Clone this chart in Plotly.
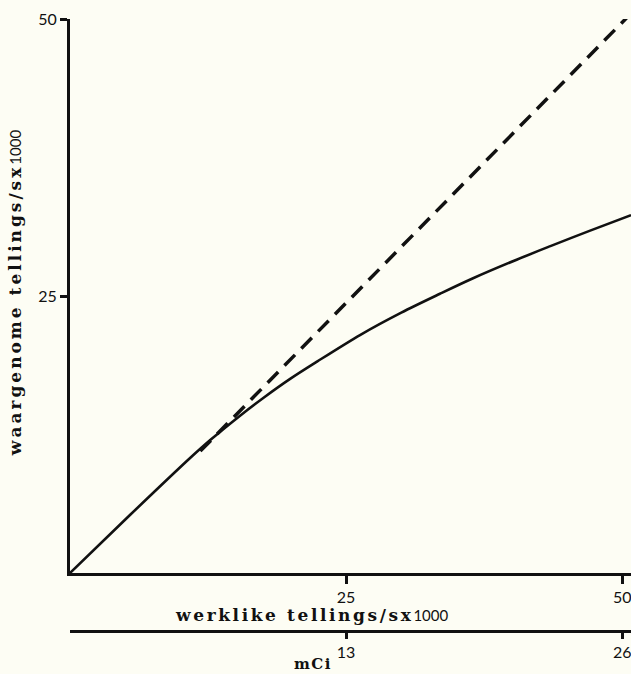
import plotly.graph_objects as go

# Data
true_counts = [0, 5.5, 10.9, 12.7, 15.4, 17.5, 19.9, 22.4, 26.3, 30.0, 33.5, 36.5, 40.5, 43.5, 47.1, 50.8]
observed_counts = [0, 5.3, 10.4, 12.0, 14.2, 15.8, 17.5, 19.1, 21.5, 23.5, 25.2, 26.6, 28.3, 29.5, 30.9, 32.3]
ideal_x = [11.8, 50.5]
ideal_y = [11.0, 50.2]

count_ticks = [25, 50]
mci_ticks = [13, 26]

x_max = 50.8
mci_per_count = mci_ticks[-1] / count_ticks[-1]

bg = "#fdfdf4"
ink = "#111111"
serif = "DejaVu Serif"
sans = "Lato"

fig = go.Figure()
fig.add_trace(go.Scatter(
    x=true_counts, y=observed_counts, mode="lines",
    line=dict(color=ink, width=2.6, shape="spline", smoothing=0.9),
    showlegend=False, hoverinfo="skip"))
fig.add_trace(go.Scatter(
    x=ideal_x, y=ideal_y, mode="lines",
    line=dict(color=ink, width=3.5, dash="15px,9px"),
    showlegend=False, hoverinfo="skip"))
# invisible trace to activate the mCi axis
fig.add_trace(go.Scatter(x=[None], y=[None], xaxis="x2", yaxis="y",
                         showlegend=False, hoverinfo="skip"))

fig.update_layout(
    width=631, height=674,
    margin=dict(l=70, r=0, t=19, b=43),
    paper_bgcolor=bg, plot_bgcolor=bg,
    xaxis=dict(range=[0, x_max], showgrid=False, zeroline=False,
               showline=True, linecolor=ink, linewidth=3,
               ticks="outside", tickvals=count_ticks, ticklen=8, tickwidth=2.5, tickcolor=ink,
               ticklabeloverflow="allow",
               tickfont=dict(family=sans, size=16, color=ink)),
    yaxis=dict(range=[0, 50], domain=[58 / 612, 1], showgrid=False, zeroline=False,
               showline=True, linecolor=ink, linewidth=3,
               ticks="outside", tickvals=count_ticks, ticklen=7, tickwidth=2.5, tickcolor=ink,
               ticklabeloverflow="allow",
               tickfont=dict(family=sans, size=16, color=ink)),
    xaxis2=dict(range=[0, x_max * mci_per_count], overlaying="x", anchor="free", position=0,
                side="bottom", showgrid=False, zeroline=False,
                showline=True, linecolor=ink, linewidth=3,
                ticks="outside", tickvals=mci_ticks, ticklen=6, tickwidth=2.5, tickcolor=ink,
                ticklabeloverflow="allow",
                tickfont=dict(family=sans, size=16, color=ink)),
)

fig.add_annotation(
    text="<span style='letter-spacing:2.6px'><b>werklike tellings/sx</b></span>"
         "<span style='font-family:Lato;font-size:15px'>1000</span>",
    xref="paper", yref="paper", x=0.43, y=0.026, showarrow=False,
    font=dict(family=serif, size=17, color=ink), xanchor="center", yanchor="middle")
fig.add_annotation(
    text="<span style='letter-spacing:1.5px'><b>mCi</b></span>",
    xref="paper", yref="paper", x=0.433, y=-0.054, showarrow=False,
    font=dict(family=serif, size=15, color=ink), xanchor="center", yanchor="middle")
fig.add_annotation(
    text="<span style='letter-spacing:3px'><b>waargenome tellings/sx</b></span>"
         "<span style='font-family:Lato;font-size:15px'>1000</span>",
    xref="paper", yref="paper", x=-0.098, y=0.552, showarrow=False, textangle=-90,
    font=dict(family=serif, size=17, color=ink), xanchor="center", yanchor="middle")

fig.write_html(
    "out.html",
    config={"displayModeBar": False},
    post_script="document.body.style.margin='0';document.body.style.overflow='hidden';"
                "document.body.style.background='" + bg + "';",
)
